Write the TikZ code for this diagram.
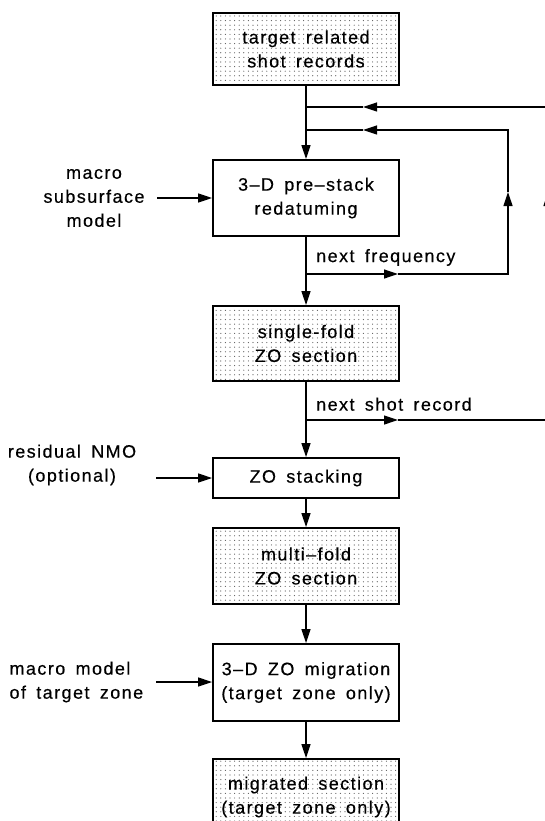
\documentclass[tikz,border=0pt]{standalone}
\usepackage{fontspec}
\setmainfont[LetterSpace=8,WordSpace=1.6,FakeBold=0.4]{Liberation Sans}
\usepackage{tikz}
\usetikzlibrary{arrows.meta,patterns}
% thin dot screen for the data boxes
\pgfdeclarepatternformonly{sparsedots}{\pgfqpoint{-1pt}{-1pt}}{\pgfqpoint{4pt}{4pt}}{\pgfqpoint{4.6pt}{4.6pt}}{%
  \pgfpathcircle{\pgfqpoint{0pt}{0pt}}{0.6pt}\pgfusepath{fill}}
\newcommand\mainx{306}

\begin{document}
\begin{tikzpicture}[x=1pt,y=-1pt,
    font=\fontsize{18}{24}\selectfont,
    stepbox/.style={draw,line width=1.9pt,minimum width=186pt,inner sep=0pt,align=center},
    databox/.style={stepbox,pattern=sparsedots,pattern color=black!65},
    flow/.style={line width=1.2pt},
    tip/.style={-{Triangle[length=14pt,width=9pt]}}]
  \clip (0,0) rectangle (545,821);
  % boxes on the main line
  \node[databox,minimum height=72pt] (shots) at (\mainx,49) {target related\\shot records};
  \node[stepbox,minimum height=76pt] (redat) at (\mainx,198) {3--D pre--stack\\redatuming};
  \node[databox,minimum height=75pt] (single) at (\mainx,343.5) {single-fold\\ZO section};
  \node[stepbox,minimum height=40pt] (stack) at (\mainx,478) {ZO stacking};
  \node[databox,minimum height=76pt] (multi) at (\mainx,566) {multi--fold\\ZO section};
  \node[stepbox,minimum height=77pt] (migr) at (\mainx,682.5) {3--D ZO migration\\(target zone only)};
  \node[databox,minimum height=76pt] (result) at (\mainx,797) {migrated section\\(target zone only)};
  % inputs from the left
  \node[align=center] (velmod) at (94,198) {macro\\subsurface\\model};
  \node[align=center] (nmo) at (72,465) {residual NMO\\(optional)};
  \node[align=left,anchor=west] (tzmod) at (6,682) {macro model\\of target zone};
  \coordinate (velin) at (157,198);
  \coordinate (nmoin) at (156,478);
  \coordinate (tzin) at (156,682);
  % loop labels
  \node[anchor=south west,inner sep=0pt] (freqlabel) at (316,266) {next frequency};
  \node[anchor=south west,inner sep=0pt] (shotlabel) at (316,411) {next shot record};
  % loop corners
  \coordinate (shotback) at (\mainx,107);
  \coordinate (freqback) at (\mainx,130);
  \coordinate (freqout) at (\mainx,274);
  \coordinate (shotout) at (\mainx,420);
  \coordinate (freqmid) at (398,274);
  \coordinate (freqbr) at (508,274);
  \coordinate (frequp) at (508,192);
  \coordinate (freqtr) at (508,130);
  \coordinate (freqleft) at (363,130);
  \coordinate (shotmid) at (398,420);
  \coordinate (shotbr) at (548,420);
  \coordinate (shotup) at (548,192);
  \coordinate (shottr) at (548,107);
  \coordinate (shotleft) at (363,107);
  % main flow
  \draw[flow,tip] (shots) -- (redat);
  \draw[flow,tip] (redat) -- (single);
  \draw[flow,tip] (single) -- (stack);
  \draw[flow,tip] (stack) -- (multi);
  \draw[flow,tip] (multi) -- (migr);
  \draw[flow,tip] (migr) -- (result);
  \draw[flow,tip] (velin) -- (redat.west |- velin);
  \draw[flow,tip] (nmoin) -- (stack.west |- nmoin);
  \draw[flow,tip] (tzin) -- (migr.west |- tzin);
  % frequency loop
  \draw[flow,tip] (freqout) -- (freqmid);
  \draw[flow,tip] (freqmid) -- (freqbr) -- (frequp);
  \draw[flow,tip] (frequp) -- (freqtr) -- (freqleft);
  \draw[flow] (freqleft) -- (freqback);
  % shot record loop
  \draw[flow,tip] (shotout) -- (shotmid);
  \draw[flow,tip] (shotmid) -- (shotbr) -- (shotup);
  \draw[flow,tip] (shotup) -- (shottr) -- (shotleft);
  \draw[flow] (shotleft) -- (shotback);
\end{tikzpicture}
\end{document}
